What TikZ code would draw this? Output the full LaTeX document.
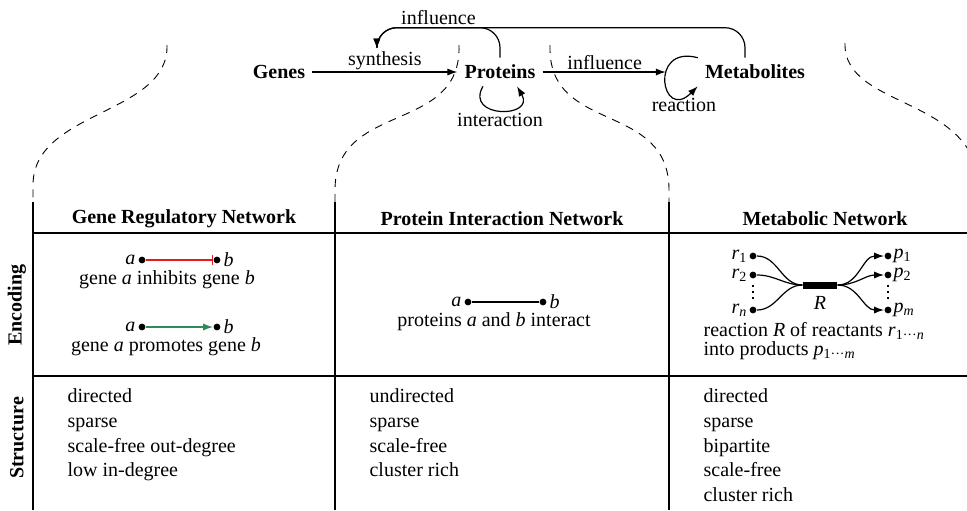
\documentclass[tikz,border=0pt]{standalone}
\usepackage{fontspec}
\setmainfont{Liberation Serif}
\usetikzlibrary{arrows.meta,positioning}
\definecolor{inhib}{HTML}{E41A1C}
\definecolor{promo}{HTML}{2E8B57}
\newcommand{\vi}[1]{\textit{#1}}
\newcommand{\vsub}[2]{\textit{#1}\textsubscript{#2}}

\begin{document}
\begin{tikzpicture}[x=0.5pt,y=0.5pt,line width=0.6pt,>={Latex[length=5pt,width=3.6pt]},
  top/.style={font=\bfseries},
  head/.style={font=\bfseries},
  lbl/.style={inner sep=1pt},
  dot/.style={circle,fill,inner sep=0pt,minimum size=3.4pt},
  zoomline/.style={line width=0.45pt,dash pattern=on 4pt off 3.5pt},
  list/.style={align=left,anchor=north west,inner sep=0pt,font=\fontsize{10}{12.4}\selectfont}]
\useasboundingbox (0,0) rectangle (967,-510);
\clip (0,0) rectangle (967,-510);

% the three levels
\node[top] (Genes) at (279,-72) {Genes};
\node[top] (Proteins) at (500,-72) {Proteins};
\node[top] (Metab) at (755,-72) {Metabolites};
\draw[->] (Genes) -- node[lbl,above] (syn) {synthesis} (Proteins);
\draw[->,shorten >=16pt] (Proteins) -- node[lbl,above,pos=0.4] (infl) {influence} (Metab);
\draw[->] (Proteins.220) to[out=240,in=300,looseness=2.8] node[lbl,below] (inter) {interaction} (Proteins.320);
\draw[->] (Metab.north west) to[out=165,in=225,looseness=4.6] node[lbl,pos=0.86,below] (react) {reaction} (Metab.south west);
\draw[->,rounded corners=10pt] (Proteins.north) -- ++(0,15pt) -| node[lbl,above,pos=0.25] (inflb) {influence} ([xshift=-4pt]syn.north);
\draw[->,rounded corners=10pt] ([xshift=-5pt]Metab.north) -- ++(0,15pt) -| ([xshift=-4pt]syn.north);

% zoom lines
\draw[zoomline] (167,-45) .. controls (169,-115) and (33,-110) .. (33,-185) -- (33,-202);
\draw[zoomline] (459,-45) .. controls (462,-135) and (335,-100) .. (335,-190) -- (335,-202);
\draw[zoomline] (550,-45) .. controls (547,-135) and (669,-100) .. (669,-190) -- (669,-202);
\draw[zoomline] (845,-43) .. controls (843,-110) and (979,-95) .. (979,-190) -- (979,-202);

% table
\draw (33,-202) -- (33,-510);
\draw (335,-202) -- (335,-510);
\draw (669,-202) -- (669,-510);
\draw (33,-233) -- (967,-233);
\draw (33,-376) -- (967,-376);
\node[head] (hgrn) at (184,-219) {Gene Regulatory Network};
\node[head] (hpin) at (502,-219) {Protein Interaction Network};
\node[head] (hmet) at (825,-219) {Metabolic Network};
\node[head,rotate=90] (renc) at (17,-305) {Encoding};
\node[head,rotate=90] (rstr) at (17,-438) {Structure};

% gene regulatory encoding
\node[dot,label={[lbl]left:\vi{a}}] (ia) at (142,-260) {};
\node[dot,label={[lbl]right:\vi{b}}] (ib) at (217,-260) {};
\draw[inhib,-{Bar[width=5pt]}] (ia) -- (ib);
\node (inhtxt) at (167,-280) {gene \vi{a} inhibits gene \vi{b}};
\node[dot,label={[lbl]left:\vi{a}}] (pa) at (142,-327) {};
\node[dot,label={[lbl]right:\vi{b}}] (pb) at (217,-327) {};
\draw[promo,->] (pa) -- (pb);
\node (protxt) at (166,-347) {gene \vi{a} promotes gene \vi{b}};

% protein interaction encoding
\node[dot,label={[lbl]left:\vi{a}}] (ka) at (468,-302) {};
\node[dot,label={[lbl]right:\vi{b}}] (kb) at (543,-302) {};
\draw (ka) -- (kb);
\node (inttxt) at (494,-322) {proteins \vi{a} and \vi{b} interact};

% metabolic encoding
\node[dot,label={[inner sep=0.5pt]left:\vsub{r}{1}}] (r1) at (753,-256) {};
\node[dot,label={[inner sep=0.5pt]left:\vsub{r}{2}}] (r2) at (753,-275) {};
\node[dot,label={[inner sep=0.5pt]left:\vsub{r}{\vi{n}}}] (rn) at (753,-310) {};
\node[fill,minimum width=17pt,minimum height=3.5pt,inner sep=0pt,label={below:\vi{R}}] (R) at (820,-285) {};
\node[dot,label={[inner sep=0.5pt]right:\vsub{p}{1}}] (p1) at (888,-256) {};
\node[dot,label={[inner sep=0.5pt]right:\vsub{p}{2}}] (p2) at (888,-275) {};
\node[dot,label={[inner sep=0.5pt]right:\vsub{p}{\vi{m}}}] (pm) at (888,-310) {};
\draw (r1) to[out=0,in=180] (R.west);
\draw (r2) to[out=0,in=180] (R.west);
\draw (rn) to[out=0,in=180] (R.west);
\draw[->] (R.east) to[out=0,in=180] (p1);
\draw[->] (R.east) to[out=0,in=180] (p2);
\draw[->] (R.east) to[out=0,in=180] (pm);
\draw[dotted,line width=1pt,shorten <=3pt,shorten >=3pt] (r2) -- (rn);
\draw[dotted,line width=1pt,shorten <=3pt,shorten >=3pt] (p2) -- (pm);
\node[align=left,anchor=north west,inner sep=0pt,font=\fontsize{10}{9.5}\selectfont] (mettxt) at (703,-322) {reaction \vi{R} of reactants \vsub{r}{1···\vi{n}}\\into products \vsub{p}{1···\vi{m}}};

% structure
\node[list] (sgrn) at (67,-388) {directed\\sparse\\scale-free out-degree\\low in-degree};
\node[list] (spin) at (369,-388) {undirected\\sparse\\scale-free\\cluster rich};
\node[list] (smet) at (703,-388) {directed\\sparse\\bipartite\\scale-free\\cluster rich};
\end{tikzpicture}
\end{document}
